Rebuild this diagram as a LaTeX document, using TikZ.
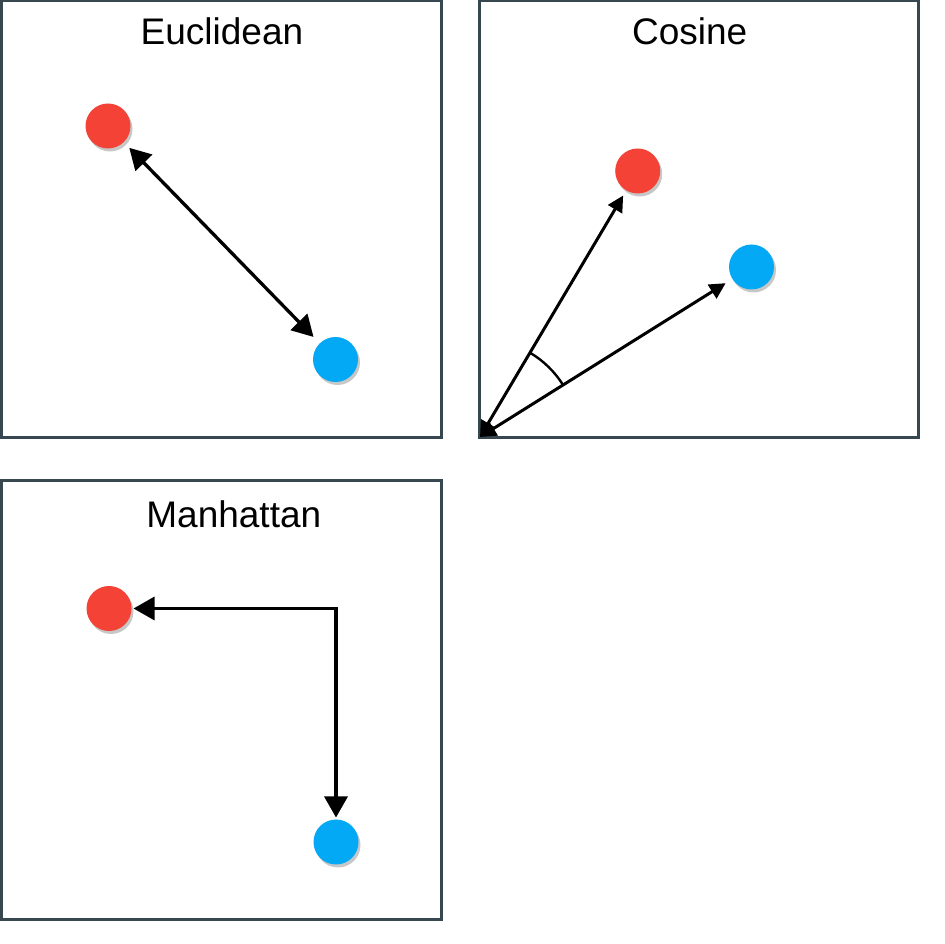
\documentclass[tikz,border=0pt]{standalone}
\usepackage{fontspec}
\setmainfont{Liberation Sans}
\usetikzlibrary{arrows.meta, angles, shadows}
\definecolor{dotred}{HTML}{F44336}
\definecolor{dotblue}{HTML}{03A9F4}
\definecolor{framegray}{HTML}{37474F}

\begin{document}
\begin{tikzpicture}[x=1pt, y=1pt,
  panel/.style={draw=framegray, line width=3pt},
  ttl/.style={anchor=base, font=\fontsize{37}{40}\selectfont},
  dot/.style={circle, minimum size=45pt, inner sep=0pt, outer sep=2pt,
    drop shadow={shadow xshift=2pt, shadow yshift=-3pt, fill=black, opacity=0.22}},
  rdot/.style={dot, fill=dotred},
  bdot/.style={dot, fill=dotblue},
  big/.style={line width=3.3pt, {Triangle[length=21pt,width=23pt]}-{Triangle[length=21pt,width=23pt]}},
  small/.style={line width=3pt, {Triangle[length=16pt,width=16pt]}-{Triangle[length=16pt,width=16pt]}}]
\useasboundingbox (0,0) rectangle (944,944);
\draw[panel] (1.5,943.5) rectangle (441,506.5);
\draw[panel] (479,943.5) rectangle (918,506.5);
\draw[panel] (1.5,463) rectangle (441,24);
\node[ttl] (tE) at (222,899.7) {Euclidean};
\node[ttl] (tC) at (689.7,899.7) {Cosine};
\node[ttl] (tM) at (233.8,416.3) {Manhattan};
\node[rdot] (eR) at (108,818) {};
\node[bdot] (eB) at (335.5,584.5) {};
\node[rdot] (cR) at (637.7,773) {};
\node[bdot] (cB) at (751.5,677) {};
\node[rdot] (mR) at (109,335.5) {};
\node[bdot] (mB) at (336,102) {};
\coordinate (cO) at (480,507);
\draw[big, shorten <=6pt, shorten >=7pt] (eR) -- (eB);
\draw[small, shorten >=4pt] (cO) -- (cR);
\draw[small, shorten >=6pt] (cO) -- (cB);
\pic[draw, line width=2.4pt, angle radius=98pt] {angle = cB--cO--cR};
\draw[big] (mR) -| (mB);
\end{tikzpicture}
\end{document}
